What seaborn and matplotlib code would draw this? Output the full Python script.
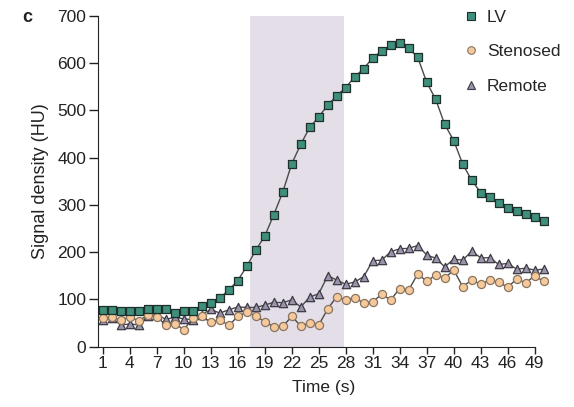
import matplotlib
matplotlib.use("Agg")
import matplotlib.pyplot as plt
from matplotlib.lines import Line2D
import seaborn as sns
import pandas as pd

time_s = list(range(1, 51))
lv = [78, 78, 75, 75, 76, 80, 80, 80, 71, 76,
      76, 87, 92, 103, 120, 140, 170, 204, 234, 279,
      327, 387, 428, 464, 486, 511, 531, 548, 571, 588,
      611, 625, 637, 643, 631, 612, 559, 523, 470, 436,
      386, 352, 326, 317, 303, 294, 287, 281, 275, 266]
stenosed = [60, 62, 56, 63, 55, 67, 63, 46, 49, 36,
            60, 64, 52, 57, 45, 64, 73, 65, 53, 42,
            43, 64, 44, 50, 46, 80, 106, 99, 104, 92,
            95, 111, 99, 123, 120, 154, 138, 152, 145, 162,
            127, 141, 132, 141, 136, 126, 143, 135, 150, 138]
remote = [56, 60, 46, 48, 46, 65, 68, 58, 62, 59,
          57, 68, 79, 71, 78, 84, 83, 83, 88, 94,
          93, 99, 84, 105, 112, 150, 141, 132, 137, 148,
          182, 183, 201, 207, 208, 214, 194, 187, 169, 185,
          183, 202, 188, 188, 174, 176, 164, 166, 162, 164]
series_names = ["LV", "Stenosed", "Remote"]
x_ticks = list(range(1, 50, 3))
y_ticks = [0, 100, 200, 300, 400, 500, 600, 700]
shade_span = (17.4, 27.8)

colors = {"LV": "#3f8f7c", "Stenosed": "#f6c99b", "Remote": "#9a93aa"}
edges = {"LV": "#1f2f2a", "Stenosed": "#8a7460", "Remote": "#3e3a45"}
markers = {"LV": "s", "Stenosed": "o", "Remote": "^"}
sizes = {"LV": 30, "Stenosed": 34, "Remote": 36}

frames = []
for name, vals in [("Remote", remote), ("Stenosed", stenosed), ("LV", lv)]:
    frames.append(pd.DataFrame({"t": time_s, "v": vals, "series": name}))
df = pd.concat(frames, ignore_index=True)

sns.set_style("ticks")
plt.rcParams["font.family"] = ["Liberation Sans", "DejaVu Sans"]

fig = plt.figure(figsize=(5.74, 4.07), dpi=100)
ax = fig.add_axes([98.3 / 574, 1 - 346.7 / 407, 449.9 / 574, 331 / 407])

ax.axvspan(shade_span[0], shade_span[1], color="#e3dee7", lw=0, zorder=0)

for name in ["Remote", "Stenosed", "LV"]:
    sub = df[df["series"] == name]
    sns.lineplot(data=sub, x="t", y="v", color="#4a4a4a", lw=1.0, ax=ax,
                 estimator=None, legend=False, zorder=2)
    sns.scatterplot(data=sub, x="t", y="v", marker=markers[name],
                    color=colors[name], edgecolor=edges[name], linewidth=0.9,
                    s=sizes[name], ax=ax, legend=False, zorder=3)

ax.set_xlim(0.5, 50.5)
ax.set_ylim(0, 700)
ax.set_xticks(x_ticks)
ax.set_yticks(y_ticks)
ax.tick_params(axis="both", labelsize=12.5, colors="#222222", width=1.0)
ax.tick_params(axis="y", length=6.5, pad=2)
ax.tick_params(axis="x", length=5, pad=2)
for sp in ["top", "right"]:
    ax.spines[sp].set_visible(False)
ax.spines["bottom"].set_bounds(0.5, 49)
ax.spines["left"].set_color("#222222")
ax.spines["bottom"].set_color("#222222")
ax.set_xlabel("Time (s)", fontsize=12.5, color="#222222", labelpad=6)
ax.set_ylabel("Signal density (HU)", fontsize=13, color="#222222", labelpad=6)

handles = [Line2D([], [], ls="none", marker=markers[n], markersize=5.5,
                  markerfacecolor=colors[n], markeredgecolor=edges[n],
                  markeredgewidth=0.8) for n in series_names]
fig.legend(handles, series_names, loc="upper left",
           bbox_to_anchor=(464 / 574, 1 - 10 / 407), frameon=False,
           fontsize=12.5, handlelength=0.8, handletextpad=0.52,
           labelspacing=1.1, borderpad=0, borderaxespad=0)

fig.text(22 / 574, 1 - 17 / 407, "c", fontsize=13, fontweight="bold",
         va="center", ha="left", color="#222222")

fig.savefig("out.png", dpi=100)
